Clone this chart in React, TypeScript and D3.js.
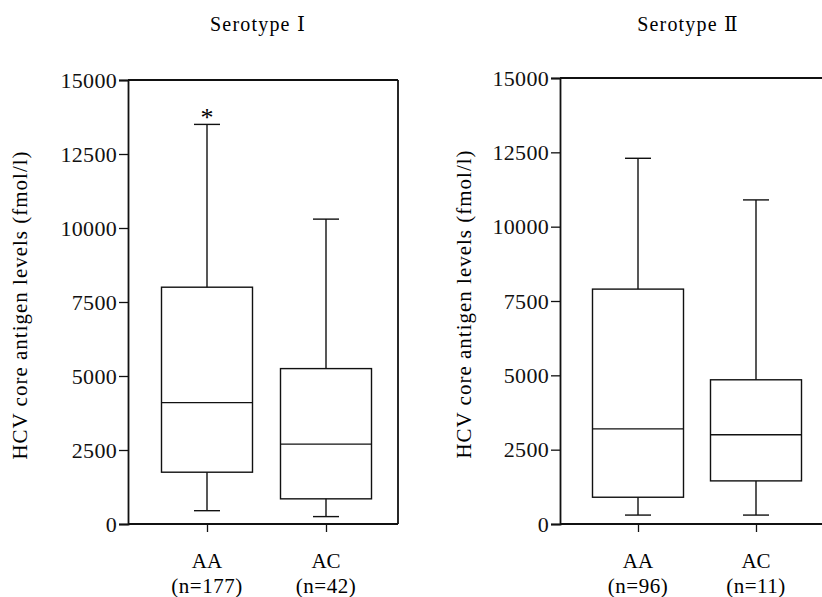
import React, { useEffect, useRef } from "react";
import * as d3 from "d3";

// categories and box-plot stats
const categories = ["AA", "AC"];
const sampleSizesI = ["(n=177)", "(n=42)"];
const sampleSizesII = ["(n=96)", "(n=11)"];

const whiskerLowI = [450, 250];
const q1I = [1750, 850];
const medianI = [4100, 2700];
const q3I = [8000, 5250];
const whiskerHighI = [13500, 10300];

const whiskerLowII = [300, 300];
const q1II = [900, 1450];
const medianII = [3200, 3000];
const q3II = [7900, 4850];
const whiskerHighII = [12300, 10900];

const yTicks = [0, 2500, 5000, 7500, 10000, 12500, 15000];
const yLabel = "HCV core antigen levels (fmol/l)";

const FONT = "Liberation Serif, DejaVu Serif, serif";

const App = () => {
  const ref = useRef<SVGSVGElement>(null);

  useEffect(() => {
    const svg = d3.select(ref.current);
    svg.selectAll("*").remove();

    const panels = [
      {
        title: "Serotype Ⅰ",
        left: 128, right: 398, top: 80, bottom: 524,
        centers: [207, 326], ns: sampleSizesI,
        lo: whiskerLowI, q1: q1I, med: medianI, q3: q3I, hi: whiskerHighI,
        star: true, box: true, labelX: 20, titleX: 258,
      },
      {
        title: "Serotype Ⅱ",
        left: 560, right: 840, top: 78, bottom: 524,
        centers: [638, 756], ns: sampleSizesII,
        lo: whiskerLowII, q1: q1II, med: medianII, q3: q3II, hi: whiskerHighII,
        star: false, box: false, labelX: 464, titleX: 688,
      },
    ];

    panels.forEach((p) => {
      const g = svg.append("g");
      const y = d3.scaleLinear().domain([0, 15000]).range([p.bottom, p.top]);
      const x = d3.scalePoint().domain(categories).range(p.centers);
      const boxW = 91;
      const capW = 26;

      // title
      g.append("text")
        .attr("x", p.titleX)
        .attr("y", 31)
        .attr("text-anchor", "middle")
        .attr("font-family", FONT)
        .attr("font-size", 20)
        .attr("letter-spacing", 1.2)
        .text(p.title);

      // frame
      g.append("line")
        .attr("x1", p.left).attr("x2", p.right)
        .attr("y1", p.top).attr("y2", p.top)
        .attr("stroke", "#111").attr("stroke-width", 1.8);
      if (p.box) {
        g.append("line")
          .attr("x1", p.right).attr("x2", p.right)
          .attr("y1", p.top).attr("y2", p.bottom)
          .attr("stroke", "#111").attr("stroke-width", 1.8);
      }

      // y axis
      const yAxis = g
        .append("g")
        .attr("transform", `translate(${p.left},0)`)
        .call(d3.axisLeft(y).tickValues(yTicks).tickSize(9).tickPadding(2).tickFormat(d3.format("d")));
      yAxis.select(".domain").attr("stroke", "#111").attr("stroke-width", 1.8);
      yAxis.selectAll(".tick line").attr("stroke", "#111").attr("stroke-width", 1.3);
      yAxis.selectAll(".tick text")
        .attr("fill", "#111")
        .attr("font-family", FONT)
        .attr("font-size", 22)
        .attr("letter-spacing", 0.3);

      // x axis
      const xAxis = g
        .append("g")
        .attr("transform", `translate(0,${p.bottom})`)
        .call(d3.axisBottom(x).tickSize(8).tickSizeOuter(0).tickFormat(() => ""));
      xAxis.select(".domain")
        .attr("d", `M${p.left},0H${p.right}`)
        .attr("stroke", "#111").attr("stroke-width", 1.8);
      xAxis.selectAll(".tick line").attr("stroke", "#111").attr("stroke-width", 1.3);

      // category labels
      categories.forEach((c, i) => {
        const cx = x(c) as number;
        g.append("text")
          .attr("x", cx).attr("y", 568)
          .attr("text-anchor", "middle")
          .attr("font-family", FONT)
          .attr("font-size", 21)
          .text(c);
        g.append("text")
          .attr("x", cx).attr("y", 593)
          .attr("text-anchor", "middle")
          .attr("font-family", FONT)
          .attr("font-size", 21)
          .attr("letter-spacing", 0.5)
          .text(p.ns[i]);
      });

      // y label
      g.append("text")
        .attr("transform", `translate(${p.labelX},${(p.top + p.bottom) / 2 + 3}) rotate(-90)`)
        .attr("text-anchor", "middle")
        .attr("dy", "0.35em")
        .attr("font-family", FONT)
        .attr("font-size", 21)
        .attr("letter-spacing", 1)
        .text(yLabel);

      // boxes
      categories.forEach((c, i) => {
        const cx = x(c) as number;
        const bg = g.append("g").attr("stroke", "#111").attr("stroke-width", 1.4).attr("fill", "none");
        bg.append("line").attr("x1", cx).attr("x2", cx).attr("y1", y(p.hi[i])).attr("y2", y(p.q3[i]));
        bg.append("line").attr("x1", cx).attr("x2", cx).attr("y1", y(p.q1[i])).attr("y2", y(p.lo[i]));
        bg.append("line").attr("x1", cx - capW / 2).attr("x2", cx + capW / 2).attr("y1", y(p.hi[i])).attr("y2", y(p.hi[i]));
        bg.append("line").attr("x1", cx - capW / 2).attr("x2", cx + capW / 2).attr("y1", y(p.lo[i])).attr("y2", y(p.lo[i]));
        bg.append("rect")
          .attr("x", cx - boxW / 2)
          .attr("width", boxW)
          .attr("y", y(p.q3[i]))
          .attr("height", y(p.q1[i]) - y(p.q3[i]));
        bg.append("line").attr("x1", cx - boxW / 2).attr("x2", cx + boxW / 2).attr("y1", y(p.med[i])).attr("y2", y(p.med[i]));
      });

      if (p.star) {
        const cx = x(categories[0]) as number;
        g.append("text")
          .attr("x", cx).attr("y", y(p.hi[0]) + 2)
          .attr("text-anchor", "middle")
          .attr("font-family", FONT)
          .attr("font-size", 26)
          .text("*");
      }
    });
  }, []);

  return (
    <svg ref={ref} width={822} height={597} style={{ position: "absolute", left: 0, top: 0, background: "#fff" }} />
  );
};

export default App;
